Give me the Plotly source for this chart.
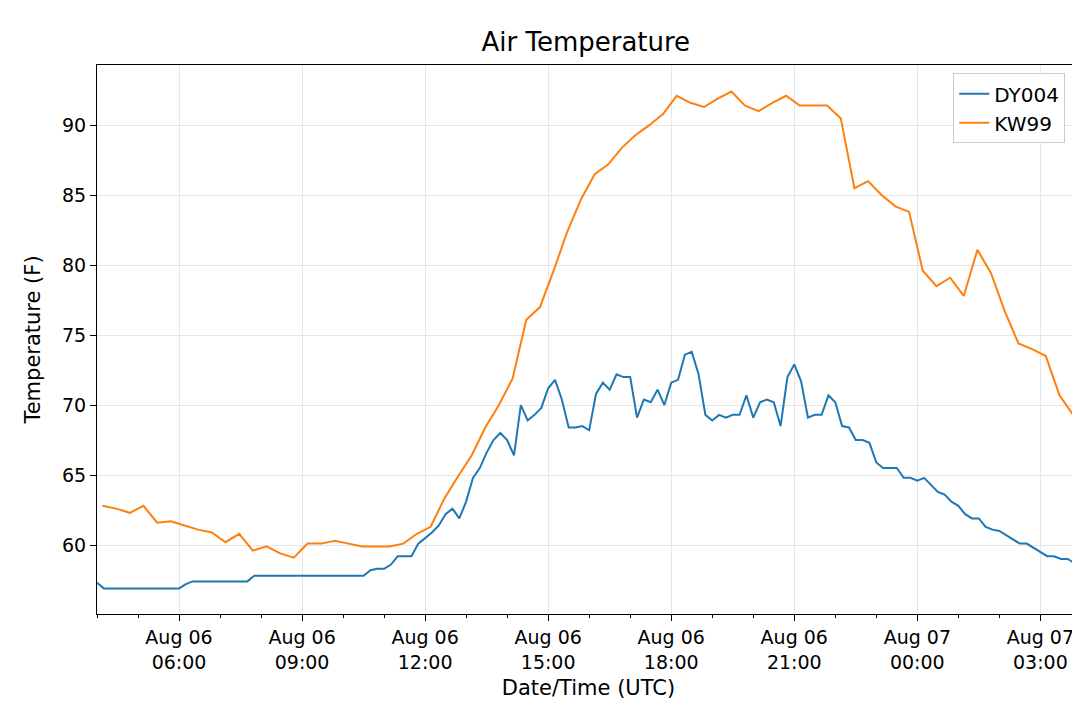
import pandas as pd
import plotly.graph_objects as go

# DY004 - 10 minute observations starting 2020-08-06 04:00 UTC
dy004_temp = [57.3] + [56.9] * 12 + [57.2] + [57.4] * 9 + [57.8] * 17 + [
    58.2, 58.3, 58.3, 58.6, 59.2, 59.2, 59.2, 60.1, 60.5, 60.9, 61.4, 62.2, 62.6, 61.9,
    63.1, 64.8, 65.5, 66.6, 67.5, 68.0, 67.5, 66.4, 70.0, 68.9, 69.3, 69.8,
    71.2, 71.8, 70.4, 68.4, 68.4, 68.5, 68.2, 70.8, 71.6, 71.1, 72.2, 72.0, 72.0, 69.1,
    70.4, 70.2, 71.1, 70.0, 71.6, 71.8, 73.6, 73.8, 72.2, 69.3, 68.9, 69.3, 69.1, 69.3,
    69.3, 70.7, 69.1, 70.2, 70.4, 70.2, 68.5, 72.0, 72.9, 71.7, 69.1, 69.3, 69.3, 70.7,
    70.2, 68.5, 68.4, 67.5, 67.5, 67.3, 65.9, 65.5, 65.5, 65.5, 64.8, 64.8, 64.6, 64.8,
    64.3, 63.8, 63.6, 63.1, 62.8, 62.2, 61.9, 61.9, 61.3, 61.1, 61.0, 60.7, 60.4, 60.1,
    60.1, 59.8, 59.5, 59.2, 59.2, 59.0, 59.0, 58.7, 58.7, 58.7,
]
dy004_time = pd.date_range("2020-08-06 04:00", periods=len(dy004_temp), freq="10min")

# KW99 - 20 minute observations
kw99_temp = [
    62.8, 62.6, 62.3, 62.8, 61.6, 61.7, 61.4, 61.1, 60.9, 60.2, 60.8, 59.6, 59.9, 59.4,
    59.1, 60.1, 60.1, 60.3, 60.1, 59.9, 59.9, 59.9, 60.1, 60.8, 61.3, 63.3, 64.9, 66.4,
    68.4, 70.0, 71.9, 76.1, 77.0, 79.6, 82.4, 84.7, 86.5, 87.2, 88.4, 89.3, 90.0, 90.8,
    92.1, 91.6, 91.3, 91.9, 92.4, 91.4, 91.0, 91.6, 92.1, 91.4, 91.4, 91.4, 90.5, 85.5,
    86.0, 85.0, 84.2, 83.8, 79.6, 78.5, 79.1, 77.8, 81.1, 79.4, 76.7, 74.4, 74.0, 73.5,
    70.7, 69.3,
]
kw99_time = pd.date_range("2020-08-06 04:08", periods=len(kw99_temp), freq="20min")

tick_vals = pd.date_range("2020-08-06 06:00", "2020-08-07 03:00", freq="3h")
tick_text = [t.strftime("%b %d<br>%H:%M") for t in tick_vals]

fig = go.Figure()
fig.add_trace(go.Scatter(x=dy004_time, y=dy004_temp, mode="lines", name="DY004",
                         line=dict(color="#1f77b4", width=2)))
fig.add_trace(go.Scatter(x=kw99_time, y=kw99_temp, mode="lines", name="KW99",
                         line=dict(color="#ff7f0e", width=2)))

axis_common = dict(showline=True, linecolor="black", linewidth=1, mirror=True,
                   showgrid=True, gridcolor="#e6e6e6", ticks="outside",
                   tickcolor="black", ticklen=6, zeroline=False, automargin=False,
                   tickfont=dict(size=19))

fig.update_layout(
    width=1080, height=705,
    paper_bgcolor="white", plot_bgcolor="white",
    font=dict(family="DejaVu Sans", size=18, color="black"),
    title=dict(text="Air Temperature", x=0.535, xanchor="center", y=0.965,
               font=dict(size=26), automargin=False),
    margin=dict(l=89, r=8, t=57, b=99, autoexpand=False),
    xaxis=dict(axis_common, title=dict(text="Date/Time (UTC)", font=dict(size=21), standoff=8),
               range=["2020-08-06 04:00", "2020-08-07 03:58"],
               tickvals=tick_vals, ticktext=tick_text,
               minor=dict(dtick=3600000, ticks="outside", ticklen=3, tickcolor="black",
                          showgrid=False)),
    yaxis=dict(axis_common, title=dict(text="Temperature (F)", font=dict(size=21)),
               range=[55.07, 94.3], dtick=5),
    legend=dict(x=0.985, y=0.985, xanchor="right", yanchor="top",
                bordercolor="#cccccc", borderwidth=1, bgcolor="white",
                font=dict(size=20)),
    showlegend=True,
)

fig.write_html("out.html")
